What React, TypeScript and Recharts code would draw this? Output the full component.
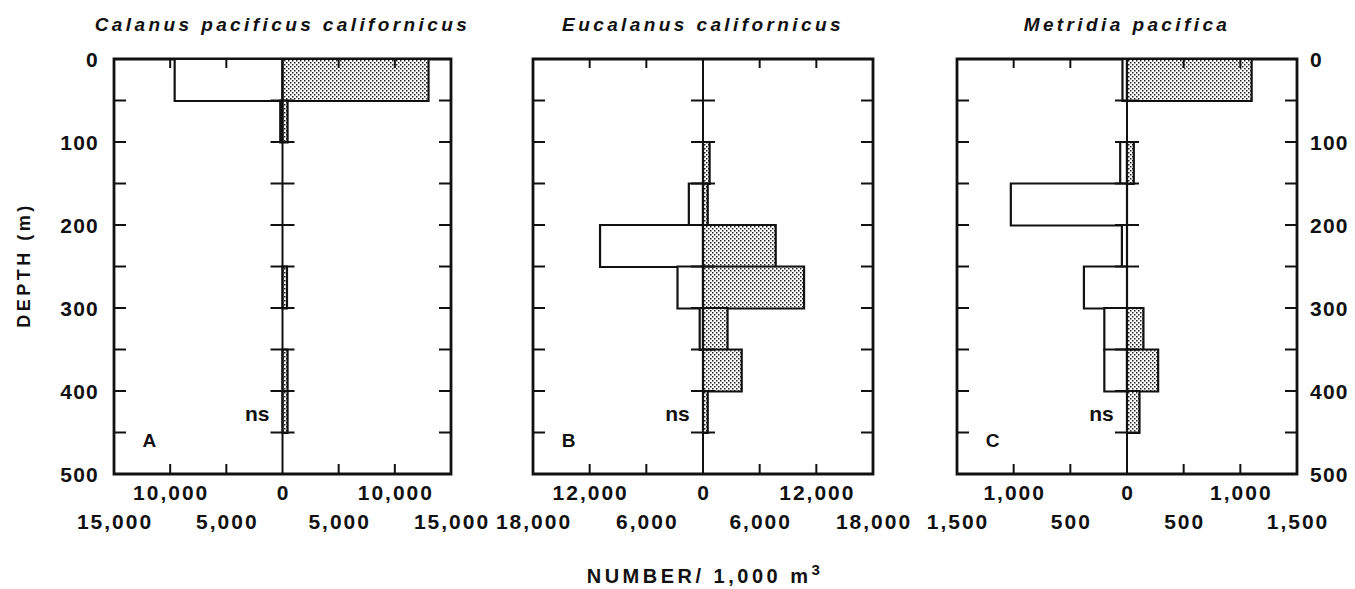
import React from 'react';
import { BarChart, Bar, XAxis, YAxis, ReferenceLine, ReferenceArea, ReferenceDot } from 'recharts';

// depth bins (m), 50 m each
const depthBins = ['0-50', '50-100', '100-150', '150-200', '200-250', '250-300', '300-350', '350-400', '400-450', '450-500'];

// numbers / 1,000 m3 ; open bars go to the left, stippled bars to the right
const calanusOpen = [9600, 200, 0, 0, 0, 0, 0, 0, 0, 0];
const calanusStippled = [13000, 450, 0, 0, 0, 400, 0, 450, 450, 0];
const eucalanusOpen = [0, 0, 0, 1500, 10900, 2700, 350, 0, 0, 0];
const eucalanusStippled = [0, 0, 700, 500, 7700, 10700, 2600, 4100, 500, 0];
const metridiaOpen = [40, 0, 60, 1025, 45, 380, 200, 200, 0, 0];
const metridiaStippled = [1100, 0, 60, 0, 0, 0, 145, 275, 110, 0];

const FONT = '"Liberation Sans", Arial, Helvetica, sans-serif';
const INK = '#111';
const PLOT_TOP = 59;
const PLOT_H = 415;
const CHART_H = 589;
const X_AXIS_H = CHART_H - PLOT_TOP - PLOT_H;
const BAND = PLOT_H / depthBins.length;

const buildRows = (open: number[], stippled: number[]) =>
  depthBins.map((bin, i) => ({
    bin,
    open: open[i] ? -open[i] : null,
    stippled: stippled[i] ? stippled[i] : null,
  }));

function DepthLabel({ x, y, value, plotW, side }: any) {
  if (side === 'none') return null;
  return (
    <text
      x={side === 'left' ? x - 15 : x + plotW + 13}
      y={y}
      dy="0.36em"
      textAnchor={side === 'left' ? 'end' : 'start'}
      fontFamily={FONT}
      fontWeight="bold"
      fontSize={21}
      letterSpacing={1.2}
      fill={INK}
    >
      {value}
    </text>
  );
}

// one tick per 50 m bin: marks drawn at the top edge of the bin
function DepthTick(props: any) {
  const { x, y, payload, plotW, side } = props;
  const [top, bottom] = String(payload.value).split('-').map(Number);
  const yTop = y - BAND / 2;
  const yBottom = y + BAND / 2;
  const mid = x + plotW / 2;
  return (
    <g>
      {top > 0 && (
        <g stroke={INK} strokeWidth={2}>
          <line x1={x} x2={x + 12} y1={yTop} y2={yTop} />
          <line x1={x + plotW - 12} x2={x + plotW} y1={yTop} y2={yTop} />
          <line x1={mid - 12} x2={mid + 12} y1={yTop} y2={yTop} />
        </g>
      )}
      {top % 100 === 0 && <DepthLabel x={x} y={yTop} value={top} plotW={plotW} side={side} />}
      {bottom === 500 && <DepthLabel x={x} y={yBottom} value={bottom} plotW={plotW} side={side} />}
    </g>
  );
}

function NumberTick(props: any) {
  const { x, y, payload, max, step } = props;
  const v = payload.value;
  const edge = Math.abs(v) === max;
  const firstRow = Math.abs(Math.round(v / step)) % 2 === 0;
  return (
    <g>
      {v !== 0 && !edge && (
        <g stroke={INK} strokeWidth={2}>
          <line x1={x} x2={x} y1={y} y2={y - 10} />
          <line x1={x} x2={x} y1={y - PLOT_H} y2={y - PLOT_H + 9} />
        </g>
      )}
      <text
        x={x + 1}
        y={y + (firstRow ? 26 : 55)}
        textAnchor="middle"
        fontFamily={FONT}
        fontWeight="bold"
        fontSize={21}
        letterSpacing={2}
        fill={INK}
      >
        {Math.abs(v).toLocaleString('en-US')}
      </text>
    </g>
  );
}

// text centred on a reference dot
function DotText({ viewBox, text, size, dy }: any) {
  const cx = viewBox.x + viewBox.width / 2;
  const cy = viewBox.y + viewBox.height / 2;
  return (
    <text x={cx} y={cy + dy} textAnchor="middle" dominantBaseline="central" fontFamily={FONT} fontWeight="bold" fontSize={size} fill={INK}>
      {text}
    </text>
  );
}

type PanelProps = {
  id: string;
  title: string;
  open: number[];
  stippled: number[];
  max: number;
  step: number;
  left: number;
  ml: number;
  plotW: number;
  mr: number;
  side: 'left' | 'right' | 'none';
};

function Panel({ id, title, open, stippled, max, step, left, ml, plotW, mr, side }: PanelProps) {
  const rows = buildRows(open, stippled);
  const xTicks = [-3, -2, -1, 0, 1, 2, 3].map((k) => k * step);
  return (
    <div style={{ position: 'absolute', left, top: 0 }}>
      <div
        style={{
          position: 'absolute',
          left: ml - 40,
          width: plotW + 80,
          top: 15,
          textAlign: 'center',
          fontFamily: FONT,
          fontWeight: 'bold',
          fontStyle: 'italic',
          fontSize: 19,
          lineHeight: '19px',
          letterSpacing: 3.4,
          whiteSpace: 'nowrap',
          color: INK,
        }}
      >
        {title}
      </div>
      <BarChart
        width={ml + plotW + mr}
        height={CHART_H}
        layout="vertical"
        data={rows}
        stackOffset="sign"
        barCategoryGap={0}
        barGap={0}
        margin={{ top: PLOT_TOP, bottom: 0, left: 0, right: mr }}
      >
        <defs>
          <pattern id={`dots-${id}`} width="4" height="4" patternUnits="userSpaceOnUse">
            <rect width="4" height="4" fill="#fff" />
            <rect x="0" y="0" width="1.5" height="1.5" fill="#222" />
            <rect x="2" y="2" width="1.5" height="1.5" fill="#222" />
          </pattern>
        </defs>
        <YAxis
          yAxisId="cat"
          type="category"
          dataKey="bin"
          interval={0}
          width={ml}
          tickSize={0}
          tickMargin={0}
          axisLine={false}
          tickLine={false}
          tick={(p: any) => <DepthTick {...p} plotW={plotW} side={side} />}
        />
        <XAxis
          type="number"
          domain={[-max, max]}
          allowDataOverflow
          ticks={xTicks}
          interval={0}
          height={X_AXIS_H}
          tickSize={0}
          tickMargin={0}
          axisLine={false}
          tickLine={false}
          tick={(p: any) => <NumberTick {...p} max={max} step={step} />}
        />
        <Bar yAxisId="cat" dataKey="open" stackId="s" fill="#fff" stroke={INK} strokeWidth={2.2} isAnimationActive={false} />
        <Bar
          yAxisId="cat"
          dataKey="stippled"
          stackId="s"
          fill={`url(#dots-${id})`}
          stroke={INK}
          strokeWidth={2.2}
          isAnimationActive={false}
        />
        <ReferenceLine x={0} yAxisId="cat" stroke={INK} strokeWidth={2} />
        <ReferenceArea x1={-max} x2={max} yAxisId="cat" fill="#fff" fillOpacity={0} stroke={INK} strokeWidth={2.8} />
        <ReferenceDot
          x={-0.15 * max}
          y="400-450"
          r={1}
          yAxisId="cat"
          fill="none"
          stroke="none"
          label={(p: any) => <DotText {...p} text="ns" size={21} dy={2} />}
        />
        <ReferenceDot
          x={-0.79 * max}
          y="450-500"
          r={1}
          yAxisId="cat"
          fill="none"
          stroke="none"
          label={(p: any) => <DotText {...p} text={id} size={19} dy={-13} />}
        />
      </BarChart>
    </div>
  );
}

export default function App() {
  return (
    <div style={{ position: 'absolute', left: 0, top: 0, width: 1355, height: 589, background: '#fff', overflow: 'hidden' }}>
      <Panel id="A" title="Calanus pacificus californicus" open={calanusOpen} stippled={calanusStippled}
        max={15000} step={5000} left={0} ml={114} plotW={337} mr={48} side="left" />
      <Panel id="B" title="Eucalanus californicus" open={eucalanusOpen} stippled={eucalanusStippled}
        max={18000} step={6000} left={460} ml={73} plotW={340} mr={48} side="none" />
      <Panel id="C" title="Metridia pacifica" open={metridiaOpen} stippled={metridiaStippled}
        max={1500} step={500} left={900} ml={57} plotW={340} mr={58} side="right" />
      <div
        style={{
          position: 'absolute',
          left: 24,
          top: 265,
          transform: 'translate(-50%, -50%) rotate(-90deg)',
          fontFamily: FONT,
          fontWeight: 'bold',
          fontSize: 18,
          letterSpacing: 3.5,
          whiteSpace: 'nowrap',
          color: INK,
        }}
      >
        DEPTH (m)
      </div>
      <div
        style={{
          position: 'absolute',
          left: 705,
          top: 566,
          transform: 'translateX(-50%)',
          fontFamily: FONT,
          fontWeight: 'bold',
          fontSize: 20,
          lineHeight: '20px',
          letterSpacing: 3.5,
          whiteSpace: 'nowrap',
          color: INK,
        }}
      >
        NUMBER/ 1,000 m<sup style={{ fontSize: 15, lineHeight: 0 }}>3</sup>
      </div>
    </div>
  );
}
